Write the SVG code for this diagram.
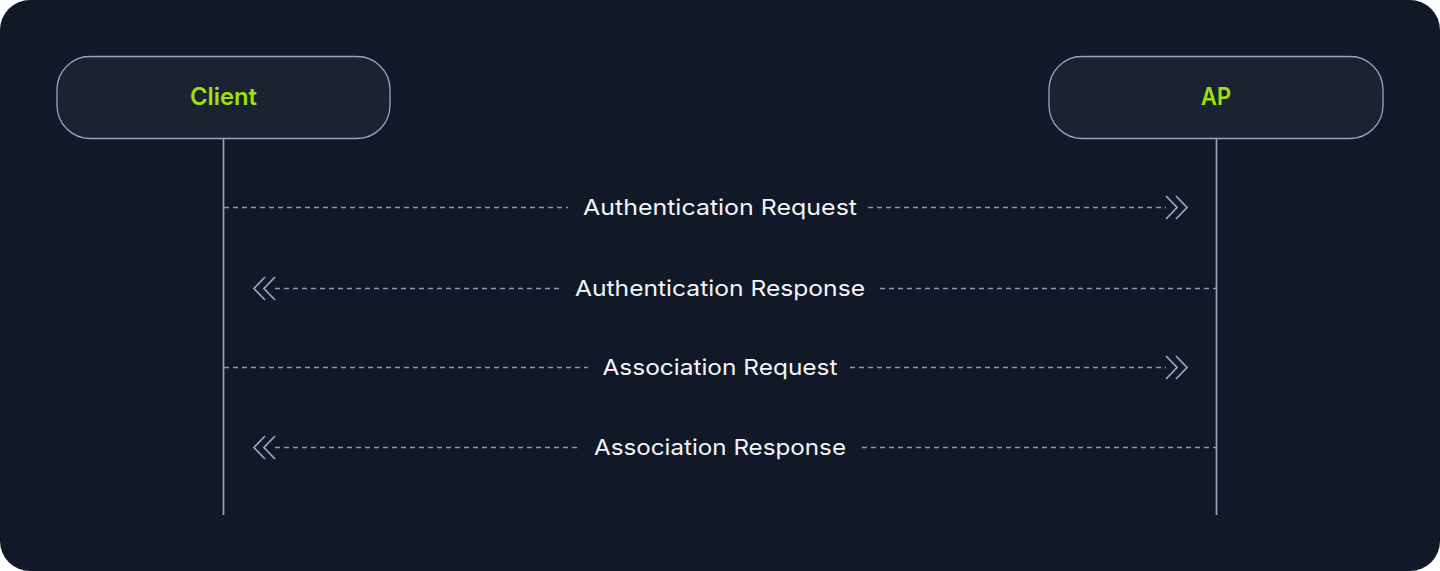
<svg xmlns="http://www.w3.org/2000/svg" width="1440" height="571" viewBox="0 0 1440 571">
<defs>
<style>
.node rect{fill:#1b2332;stroke:#9aa4ba;stroke-width:1.3}
.node text{fill:#9fe00f;font-family:Inter,"Liberation Sans",sans-serif;font-size:24px;font-weight:600;text-anchor:middle}
.life{stroke:#9aa4ba;stroke-width:1.7}
.msg{stroke:#8e98ad;stroke-width:1.3;stroke-dasharray:5 4;fill:none}
.head{stroke:#9aa4ba;stroke-width:1.8;fill:none}
.lbl{fill:#f3f4f6;font-family:Inter,"Liberation Sans",sans-serif;font-size:22px;text-anchor:middle}
</style>
</defs>
<rect x="0" y="0" width="1440" height="571" fill="#ffffff"/>
<rect x="0" y="0" width="1440" height="571" rx="30" fill="#111827"/>
<g id="lifelines">
<line class="life" x1="223.5" y1="138" x2="223.5" y2="515"/>
<line class="life" x1="1216.5" y1="138" x2="1216.5" y2="515"/>
</g>
<g id="client" class="node">
<rect x="57" y="56.5" width="333" height="82" rx="33"/>
<text x="223.5" y="105" textLength="67" lengthAdjust="spacingAndGlyphs">Client</text>
</g>
<g id="ap" class="node">
<rect x="1049" y="56.5" width="334" height="82" rx="33"/>
<text x="1216" y="105" textLength="30" lengthAdjust="spacingAndGlyphs">AP</text>
</g>
<g id="connectors">
<line class="msg" x1="224" y1="207.5" x2="568" y2="207.5"/>
<line class="msg" x1="868" y1="207.5" x2="1166" y2="207.5"/>
<path class="head" d="M1166 196 L1177 207.5 L1166 219 M1176 196 L1187 207.5 L1176 219"/>
<text class="lbl" x="720" y="215" textLength="274" lengthAdjust="spacingAndGlyphs">Authentication Request</text>

<line class="msg" x1="275" y1="288.5" x2="563" y2="288.5"/>
<line class="msg" x1="880" y1="288.5" x2="1216" y2="288.5"/>
<path class="head" d="M275 277 L264 288.5 L275 300 M265 277 L254 288.5 L265 300"/>
<text class="lbl" x="720" y="296" textLength="290" lengthAdjust="spacingAndGlyphs">Authentication Response</text>

<line class="msg" x1="224" y1="367.5" x2="588" y2="367.5"/>
<line class="msg" x1="850" y1="367.5" x2="1166" y2="367.5"/>
<path class="head" d="M1166 356 L1177 367.5 L1166 379 M1176 356 L1187 367.5 L1176 379"/>
<text class="lbl" x="720" y="375" textLength="235" lengthAdjust="spacingAndGlyphs">Association Request</text>

<line class="msg" x1="275" y1="447.5" x2="580" y2="447.5"/>
<line class="msg" x1="862" y1="447.5" x2="1216" y2="447.5"/>
<path class="head" d="M275 436 L264 447.5 L275 459 M265 436 L254 447.5 L265 459"/>
<text class="lbl" x="720" y="455" textLength="252" lengthAdjust="spacingAndGlyphs">Association Response</text>
</g>
</svg>
